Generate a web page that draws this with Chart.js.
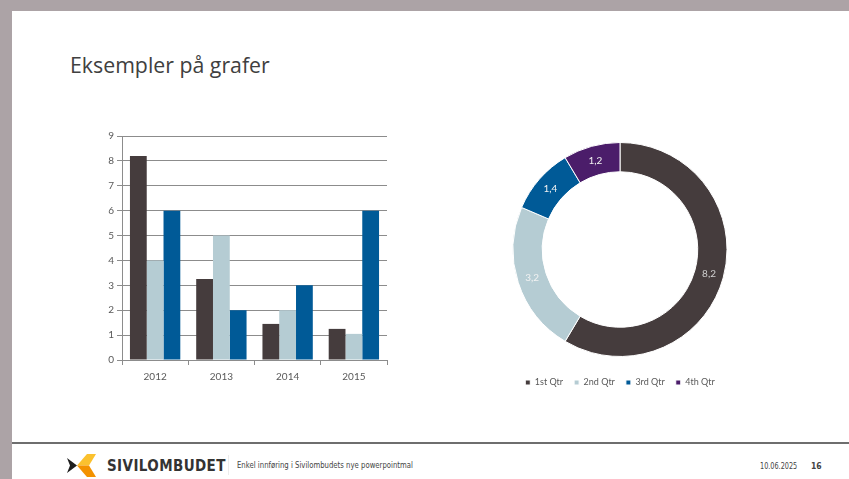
<!DOCTYPE html>
<html>
<head>
<meta charset="utf-8">
<script src="https://cdn.jsdelivr.net/npm/chart.js@4/dist/chart.umd.min.js"></script>
<style>
  html, body { margin: 0; padding: 0; }
  body { width: 849px; height: 479px; background: #aca3a6; position: relative; overflow: hidden; }
  #slide { position: absolute; left: 12px; top: 11px; width: 837px; height: 468px; background: #fff; }
  #title { position: absolute; left: 58px; top: 39px; font-family: "Open Sans", sans-serif; font-size: 21.3px; color: #404040; white-space: nowrap; }
  #barBox { position: absolute; left: 74px; top: 115px; width: 310px; height: 265px; }
  #pieBox { position: absolute; left: 488px; top: 121px; width: 240px; height: 265px; }
  #rule { position: absolute; left: 0; top: 431px; width: 837px; height: 2px; background: #6e6e6e; }
  #logo { position: absolute; left: 55px; top: 443px; }
  #brand { position: absolute; left: 95px; top: 446px; font-family: "DejaVu Sans Condensed", "DejaVu Sans", sans-serif; font-weight: bold; font-size: 15px; color: #333; letter-spacing: 0.4px; }
  #sep { position: absolute; left: 216px; top: 444px; width: 1px; height: 20px; background: #ececec; }
  #foot { position: absolute; left: 225px; top: 450px; font-family: "Liberation Sans Narrow", "DejaVu Sans Condensed", sans-serif; font-size: 8px; color: #444; transform: scaleX(0.96); transform-origin: left center; }
  #date { position: absolute; left: 748px; top: 450px; font-family: "Liberation Sans Narrow", "DejaVu Sans Condensed", sans-serif; font-size: 8.5px; color: #444; transform: scaleX(0.85); transform-origin: left center; }
  #page { position: absolute; left: 799px; top: 450px; font-family: "Liberation Sans Narrow", "DejaVu Sans Condensed", sans-serif; font-weight: bold; font-size: 8.5px; color: #444; }
</style>
</head>
<body>
<div id="slide">
  <div id="title">Eksempler på grafer</div>
  <div id="barBox"><canvas id="barChart"></canvas></div>
  <div id="pieBox"><canvas id="pieChart"></canvas></div>
  <div id="rule"></div>
  <svg id="logo" width="32" height="24" viewBox="0 0 32 24">
    <polygon points="0,4 10,11.5 0,19 3,11.5" fill="#1f1f1f"/>
    <polygon points="20,0 29,0 22,11.5 10,11.5" fill="#fbc12e"/>
    <polygon points="10,11.5 22,11.5 29,23 20,23" fill="#f39200"/>
  </svg>
  <div id="brand">SIVILOMBUDET</div>
  <div id="sep"></div>
  <div id="foot">Enkel innføring i Sivilombudets nye powerpointmal</div>
  <div id="date">10.06.2025</div>
  <div id="page">16</div>
</div>

<script>
"use strict";

// DATA -----------------------
const years = ["2012", "2013", "2014", "2015"];
const series1 = [8.2, 3.25, 1.45, 1.25];
const series2 = [4, 5, 2, 1.05];
const series3 = [6, 2, 3, 6];
const yMax = 9;

const quarters = ["1st Qtr", "2nd Qtr", "3rd Qtr", "4th Qtr"];
const sales = [8.2, 3.2, 1.4, 1.2];

const barColors = ["#453c3d", "#b5ccd3", "#005a97"];
const pieColors = ["#453c3d", "#b5ccd3", "#005a97", "#4b1d6a"];

const labelFont = "Lato, 'Open Sans', sans-serif";
const textGray = "#595959";
const gridGray = "#8c8c8c";

Chart.defaults.animation = false;

// BAR CHART -----------------------
new Chart(document.getElementById("barChart"), {
  type: "bar",
  data: {
    labels: years,
    datasets: [
      { label: "Serie 1", data: series1, backgroundColor: barColors[0] },
      { label: "Serie 2", data: series2, backgroundColor: barColors[1] },
      { label: "Serie 3", data: series3, backgroundColor: barColors[2] }
    ]
  },
  options: {
    responsive: true,
    maintainAspectRatio: false,
    categoryPercentage: 0.76,
    barPercentage: 1,
    layout: { padding: { top: 10, right: 9, left: 0, bottom: 0 } },
    plugins: { legend: { display: false }, tooltip: { enabled: false } },
    scales: {
      x: {
        grid: { offset: true, drawOnChartArea: false, drawTicks: true, tickLength: 5, color: gridGray },
        border: { color: gridGray },
        ticks: { color: textGray, font: { family: labelFont, size: 10 }, padding: 6 },
        afterFit(scale) { scale.height = 31; }
      },
      y: {
        min: 0,
        max: yMax,
        ticks: { stepSize: 1, color: textGray, font: { family: labelFont, size: 10 }, padding: 3 },
        grid: { color: gridGray, tickLength: 5 },
        border: { color: gridGray },
        afterFit(scale) { scale.width = 36; }
      }
    }
  }
});

// DOUGHNUT -----------------------
const arcLabels = {
  id: "arcLabels",
  afterDatasetsDraw(chart) {
    const ctx = chart.ctx;
    const meta = chart.getDatasetMeta(0);
    ctx.save();
    ctx.font = "10px " + labelFont;
    ctx.textAlign = "center";
    ctx.textBaseline = "middle";
    meta.data.forEach(function(arc, i) {
      const p = arc.getCenterPoint();
      ctx.fillStyle = i === 0 ? "#cfcfcf" : "#f2f2f2";
      ctx.fillText(String(sales[i]).replace(".", ","), p.x, p.y);
    });
    ctx.restore();
  }
};

new Chart(document.getElementById("pieChart"), {
  type: "doughnut",
  data: {
    labels: quarters,
    datasets: [{
      data: sales,
      backgroundColor: pieColors,
      borderColor: "#ffffff",
      borderWidth: 1,
      radius: 107,
      cutout: 85
    }]
  },
  options: {
    responsive: true,
    maintainAspectRatio: false,
    layout: { padding: 0 },
    plugins: {
      tooltip: { enabled: false },
      legend: {
        position: "bottom",
        labels: {
          boxWidth: 5,
          boxHeight: 5,
          padding: 11,
          color: textGray,
          font: { family: labelFont, size: 9 }
        }
      }
    }
  },
  plugins: [arcLabels]
});
</script>
</body>
</html>
